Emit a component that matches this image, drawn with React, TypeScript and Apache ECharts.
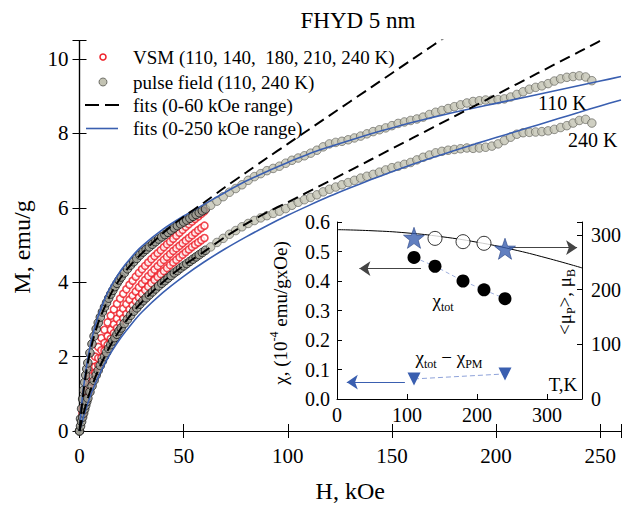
import React, { useEffect, useRef } from "react";
import * as echarts from "echarts";

// ---------- main plot data (H in kOe, M in emu/g) ----------
// pulse field data, low-field part (dense)
const pulseLowH = [0,0.5,1,1.5,2,2.5,3,3.5,4,5,6,7,8,9,10,11,12,13,14,15,16,17,18,19,20,21.5,23,24.5,26,27.5,29,30.5,32,33.5,35,36.5,38,39.5,41,42.5,44,45.5,47,48.5,50,51.5,53,54.5,56,57.5,59,60.5];
const pulse110Low = [0,0.33,0.6,0.86,1.1,1.31,1.5,1.67,1.83,2.1,2.34,2.55,2.74,2.91,3.06,3.2,3.33,3.45,3.57,3.68,3.78,3.88,3.97,4.06,4.14,4.25,4.36,4.46,4.55,4.64,4.73,4.81,4.88,4.95,5.02,5.09,5.16,5.22,5.28,5.34,5.4,5.46,5.52,5.57,5.62,5.67,5.72,5.77,5.82,5.87,5.92,5.97];
const pulse240Low = [0,0.13,0.25,0.37,0.48,0.59,0.69,0.79,0.88,1.05,1.21,1.36,1.5,1.63,1.76,1.88,2.0,2.11,2.22,2.32,2.42,2.51,2.6,2.69,2.77,2.89,3.0,3.11,3.22,3.31,3.41,3.5,3.58,3.66,3.74,3.82,3.9,3.97,4.04,4.11,4.18,4.25,4.31,4.38,4.44,4.5,4.56,4.62,4.68,4.74,4.8,4.86];
// pulse field data, high-field part
const pulseHighH = [63,66,69,72,75,78,81,84,87,90,93,96,99,102,105,108,111,114,117,120,123,126,129,132,135,138,141,144,147,150,153,156,159,162,165,168,171,174,177,180,183,186,189,192,195,198,201,204,207,210,213,216,219,222,225,228,231,234,237,240,243,246];
const pulse110High = [6.07,6.18,6.3,6.42,6.52,6.62,6.74,6.84,6.92,7.0,
  7.06,7.12,7.2,7.28,7.34,7.4,7.47,7.55,7.64,7.72,
  7.76,7.79,7.83,7.88,7.93,7.99,8.05,8.1,8.15,8.21,
  8.27,8.31,8.35,8.39,8.44,8.51,8.57,8.62,8.67,8.72,
  8.77,8.82,8.86,8.88,8.9,8.9,8.91,8.93,8.98,9.05,
  9.12,9.19,9.24,9.28,9.34,9.41,9.47,9.51,9.53,9.55,
  9.52,9.42];
const pulse240High = [4.95,5.07,5.18,5.29,5.39,5.49,5.58,5.66,5.73,5.79,
  5.85,5.91,5.98,6.07,6.15,6.22,6.28,6.35,6.43,6.5,
  6.56,6.62,6.68,6.74,6.8,6.85,6.9,6.96,7.02,7.08,
  7.12,7.17,7.22,7.29,7.36,7.42,7.48,7.52,7.55,7.57,
  7.59,7.61,7.6,7.61,7.63,7.66,7.72,7.81,7.9,7.98,
  8.02,8.03,8.04,8.05,8.07,8.11,8.16,8.21,8.28,8.35,
  8.38,8.28];

// VSM data
const vsmH = [1.5,3,4.5,6,7.5,9,10.5,12,13.5,15,16.5,18,19.5,21,22.5,24,25.5,27,28.5,30,31.5,33,34.5,36,37.5,39,40.5,42,43.5,45,46.5,48,49.5,51,52.5,54,55.5,57,58.5,60];
const vsm140M = [0.6,1.05,1.4,1.72,2.0,2.26,2.5,2.72,2.92,3.1,3.27,3.42,3.56,3.69,3.81,3.93,4.04,4.15,4.25,4.35,4.44,4.53,4.62,4.7,4.78,4.86,4.94,5.02,5.09,5.17,5.25,5.33,5.41,5.49,5.56,5.63,5.7,5.77,5.84,5.91];
const vsm180M = [0.5,0.88,1.2,1.48,1.73,1.96,2.17,2.37,2.55,2.72,2.87,3.02,3.16,3.29,3.41,3.53,3.64,3.75,3.86,3.96,4.06,4.16,4.25,4.34,4.43,4.52,4.6,4.68,4.76,4.84,4.91,4.98,5.05,5.12,5.19,5.26,5.33,5.4,5.46,5.52];
const vsm210M = [0.42,0.77,1.06,1.32,1.56,1.77,1.97,2.15,2.32,2.48,2.63,2.77,2.9,3.03,3.15,3.27,3.38,3.49,3.59,3.69,3.79,3.88,3.97,4.06,4.14,4.22,4.3,4.38,4.46,4.53,4.6,4.67,4.74,4.81,4.88,4.95,5.01,5.07,5.13,5.19];

// fits over 0-250 kOe
const fitH = [0,1,2,3,4,6,8,10,12.5,15,20,25,30,40,50,60,70,80,90,100,110,120,130,140,150,160,170,180,190,200,210,220,230,240,250,260];
const fit110M = [0,0.7,1.2,1.6,1.95,2.5,2.92,3.25,3.6,3.88,4.33,4.68,4.97,5.42,5.78,6.1,6.42,6.72,6.98,7.22,7.45,7.64,7.82,7.99,8.15,8.3,8.44,8.57,8.69,8.81,8.93,9.05,9.17,9.29,9.41,9.53];
const fit240M = [0,0.2,0.4,0.58,0.75,1.06,1.33,1.57,1.85,2.1,2.52,2.88,3.2,3.72,4.16,4.55,4.9,5.22,5.52,5.8,6.06,6.31,6.54,6.76,6.97,7.17,7.36,7.54,7.72,7.89,8.06,8.23,8.4,8.57,8.74,8.9];

// fits over 0-60 kOe
const dashH = [0,1,2,3,4,6,8,10,15,20,25,30,40,50,60,70,80,90,100,120,140,160,180,200,220,240,260];
const dash110M = [0,0.6,1.1,1.5,1.83,2.34,2.74,3.06,3.68,4.14,4.49,4.78,5.32,5.76,6.15,6.56,6.95,7.34,7.72,8.48,9.24,10.0,10.76,11.52,12.28,13.04,13.8];
const dash240M = [0,0.25,0.48,0.69,0.88,1.21,1.5,1.76,2.32,2.77,3.15,3.47,4.0,4.45,4.83,5.22,5.57,5.88,6.15,6.72,7.3,7.88,8.46,9.04,9.62,10.2,10.78];

// ---------- inset data (T in K) ----------
const chiT = [110,140,180,210,240];
const chiTot = [0.48,0.45,0.40,0.37,0.34];
const muOpenT = [140,180,210];
const muOpen = [294,288,285];
const starT = [110,240];
const muStar = [295,275];
const triT = [110,240];
const chiDiff = [0.068,0.085];
const muCurveT = [0,50,100,150,200,250,300,350];
const muCurve = [310,308,304,297,287,274,258,240];

const FONT = "Liberation Serif";
const BLUE = "#3a5fb0";
const RED = "#ee1c25";
const STAR = "path://M12,0.6 L14.8,8.6 L23.4,8.7 L16.6,13.9 L19.1,22.2 L12,17.3 L4.9,22.2 L7.4,13.9 L0.6,8.7 L9.2,8.6 Z";

const xy = (xs: number[], ys: number[]) => xs.map((x, i) => [x, ys[i]]);

const tickStyle = (len: number) => ({ show: true, inside: true, length: len, lineStyle: { color: "#000", width: 1 } });
const lineAxis = { show: true, lineStyle: { color: "#000", width: 1.2 } };
const labelStyle = (size: number, margin: number, fmt?: any) => ({
  show: true, color: "#000", fontFamily: FONT, fontSize: size, margin, formatter: fmt,
});

function buildOption(): any {
  const main = { xAxisIndex: 0, yAxisIndex: 0 };
  const ins = { xAxisIndex: 2, yAxisIndex: 2 };
  const insR = { xAxisIndex: 2, yAxisIndex: 3 };
  const txt = (x: number, y: number, text: string, size: number, extra: any = {}, rotation = 0) => ({
    type: "text", x, y, rotation, silent: true,
    style: { text, fontFamily: FONT, fontSize: size, fill: "#000", textAlign: "left", textVerticalAlign: "middle", verticalAlign: "middle", ...extra },
  });
  const richSub = (size: number, color: string) => ({
    m: { fontFamily: FONT, fontSize: size, color, lineHeight: size + 6, verticalAlign: "middle" },
    s: { fontFamily: FONT, fontSize: Math.round(size * 0.65), color, lineHeight: size + 6, verticalAlign: "bottom" },
    p: { fontFamily: FONT, fontSize: Math.round(size * 0.65), color, lineHeight: size + 6, verticalAlign: "top" },
  });
  const arrow = (color: string, from: number[], to: number[]) => ({
    silent: true, animation: false, symbol: ["none", "arrow"], symbolSize: 11,
    label: { show: false }, lineStyle: { color, width: 1.2, type: "solid" },
    data: [[{ coord: from }, { coord: to }]],
  });
  const pulseLowStyle = { color: "#9a9a90", borderColor: "#111", borderWidth: 1 };
  const pulseHighStyle = { color: "#c3c3b3", borderColor: "#55554f", borderWidth: 0.8 };
  return {
    animation: false,
    backgroundColor: "#fff",
    textStyle: { fontFamily: FONT },
    grid: [
      { left: 79.5, top: 40.5, right: -1.5, bottom: 74, containLabel: false },
      { left: 337, top: 222, width: 246, height: 177, containLabel: false },
    ],
    xAxis: [
      { type: "value", gridIndex: 0, min: 0, max: 260, interval: 50, position: "bottom",
        axisLine: lineAxis, axisTick: tickStyle(7), splitLine: { show: false },
        axisLabel: labelStyle(21, 14, (v: number) => (v % 50 === 0 ? String(v) : "")),
        name: "H, kOe", nameLocation: "middle", nameGap: 48,
        nameTextStyle: { fontFamily: FONT, fontSize: 24, color: "#000" } },
      { type: "value", gridIndex: 0, min: 0, max: 260, interval: 50, position: "top",
        axisLine: lineAxis, axisTick: tickStyle(7), splitLine: { show: false }, axisLabel: { show: false } },
      { type: "value", gridIndex: 1, min: 0, max: 350, interval: 100, position: "bottom",
        axisLine: { show: true, lineStyle: { color: "#000", width: 1 } }, axisTick: tickStyle(5), splitLine: { show: false },
        axisLabel: labelStyle(20, 6, (v: number) => (v % 100 === 0 ? String(v) : "")) },
    ],
    yAxis: [
      { type: "value", gridIndex: 0, min: 0, max: 10.5, interval: 2, position: "left",
        axisLine: lineAxis, axisTick: tickStyle(7), splitLine: { show: false },
        axisLabel: labelStyle(21, 11, (v: number) => (v % 2 === 0 ? String(v) : "")) },
      { type: "value", gridIndex: 0, min: 0, max: 10.5, interval: 2, position: "right",
        axisLine: lineAxis, axisTick: tickStyle(7), splitLine: { show: false }, axisLabel: { show: false } },
      { type: "value", gridIndex: 1, min: 0, max: 0.6, interval: 0.1, position: "left",
        axisLine: { show: true, lineStyle: { color: "#000", width: 1 } }, axisTick: tickStyle(5), splitLine: { show: false },
        axisLabel: labelStyle(20, 7, (v: number) => v.toFixed(1)) },
      { type: "value", gridIndex: 1, min: 0, max: 324, interval: 100, position: "right",
        axisLine: { show: true, lineStyle: { color: "#000", width: 1 } }, axisTick: tickStyle(5), splitLine: { show: false },
        axisLabel: labelStyle(20, 9, (v: number) => (v % 100 === 0 ? String(v) : "")) },
    ],
    series: [
      // VSM data (red open circles)
      ...[vsm140M, vsm180M, vsm210M].map((m) => ({
        type: "scatter", ...main, data: xy(vsmH, m), symbol: "circle", symbolSize: 7,
        itemStyle: { color: "#fff", borderColor: RED, borderWidth: 1.6 }, silent: true, z: 2,
      })),
      // pulse field data (gray circles)
      ...[pulse110Low, pulse240Low].map((m) => ({
        type: "scatter", ...main, data: xy(pulseLowH, m), symbol: "circle", symbolSize: 8.5,
        itemStyle: pulseLowStyle, silent: true, z: 3,
      })),
      ...[pulse110High, pulse240High].map((m) => ({
        type: "scatter", ...main, data: xy(pulseHighH, m), symbol: "circle", symbolSize: 8.5,
        itemStyle: pulseHighStyle, silent: true, z: 3,
      })),
      // fits 0-250 kOe (blue)
      ...[fit110M, fit240M].map((m) => ({
        type: "line", ...main, data: xy(fitH, m), showSymbol: false, smooth: 0.3,
        lineStyle: { color: BLUE, width: 1.6 }, silent: true, z: 4,
      })),
      // fits 0-60 kOe (black dashed)
      ...[dash110M, dash240M].map((m) => ({
        type: "line", ...main, data: xy(dashH, m), showSymbol: false, smooth: 0.3, clip: true,
        lineStyle: { color: "#000", width: 2, type: [11, 6] }, silent: true, z: 5,
      })),
      // inset: <mu_p>(T) curve
      {
        type: "line", ...insR, data: xy(muCurveT, muCurve), showSymbol: false, smooth: true,
        lineStyle: { color: "#000", width: 1 }, silent: true, z: 3,
        markLine: arrow("#444", [246, 277], [343, 277]),
      },
      // chi_tot
      {
        type: "line", ...ins, data: xy(chiT, chiTot), symbol: "circle", symbolSize: 13,
        itemStyle: { color: "#000" }, lineStyle: { color: "#9fb0de", width: 1, type: [4, 3] }, silent: true, z: 4,
        markLine: arrow("#444", [120, 0.442], [32, 0.442]),
      },
      // open circles <mu_p>
      {
        type: "scatter", ...insR, data: xy(muOpenT, muOpen), symbol: "circle", symbolSize: 14,
        itemStyle: { color: "#fff", borderColor: "#000", borderWidth: 1 }, silent: true, z: 5,
      },
      // stars
      {
        type: "scatter", ...insR, data: xy(starT, muStar), symbol: STAR, symbolSize: 21,
        itemStyle: { color: BLUE, borderColor: "#2a4588", borderWidth: 0.8 }, silent: true, z: 6,
      },
      // chi_tot - chi_PM
      {
        type: "line", ...ins, data: xy(triT, chiDiff), symbol: "triangle", symbolRotate: 180, symbolSize: 13,
        itemStyle: { color: BLUE }, lineStyle: { color: "#8fa3da", width: 1, type: [5, 3] }, silent: true, z: 4,
        markLine: arrow(BLUE, [97, 0.057], [14, 0.057]),
      },
    ],
    graphic: [
      txt(358, 20, "FHYD 5 nm", 23, { textAlign: "center" }),
      txt(22, 247, "M, emu/g", 24, { textAlign: "center" }, Math.PI / 2),
      // legend
      { type: "circle", silent: true, shape: { cx: 103, cy: 57, r: 3 }, style: { fill: "#fff", stroke: RED, lineWidth: 1.5 } },
      { type: "circle", silent: true, shape: { cx: 103, cy: 82, r: 4 }, style: { fill: "#c3c3b3", stroke: "#55554f", lineWidth: 0.8 } },
      { type: "line", silent: true, shape: { x1: 85, y1: 105, x2: 119, y2: 105 }, style: { stroke: "#000", lineWidth: 2, lineDash: [14, 6] } },
      { type: "line", silent: true, shape: { x1: 86, y1: 128.5, x2: 118, y2: 128.5 }, style: { stroke: BLUE, lineWidth: 1.6 } },
      txt(133, 57, "VSM (110, 140,  180, 210, 240 K)", 19),
      txt(133, 82, "pulse field (110, 240 K)", 19),
      txt(133, 105, "fits (0-60 kOe range)", 19),
      txt(133, 128, "fits (0-250 kOe range)", 19),
      txt(538, 103, "110 K", 20),
      txt(568, 140, "240 K", 20),
      // inset texts
      {
        type: "text", x: 280, y: 313, rotation: Math.PI / 2, silent: true,
        style: { text: "{m|χ, (10}{p|-4}{m| emu/gxOe)}", rich: richSub(19, "#000"), textAlign: "center", textVerticalAlign: "middle", verticalAlign: "middle", align: "center" },
      },
      {
        type: "text", x: 564, y: 302, rotation: Math.PI / 2, silent: true,
        style: { text: "{m|<μ}{s|P}{m|>, μ}{s|B}", rich: richSub(19, "#000"), textAlign: "center", textVerticalAlign: "middle", verticalAlign: "middle", align: "center" },
      },
      {
        type: "text", x: 443, y: 300, silent: true,
        style: { text: "{m|χ}{s|tot}", rich: richSub(19, "#000"), textAlign: "center", textVerticalAlign: "middle", verticalAlign: "middle", align: "center" },
      },
      {
        type: "text", x: 449, y: 357, silent: true,
        style: { text: "{m|χ}{s|tot}{m| − χ}{s|PM}", rich: richSub(19, BLUE), textAlign: "center", textVerticalAlign: "middle", verticalAlign: "middle", align: "center" },
      },
      txt(563, 384, "T,K", 19, { textAlign: "center" }),
    ],
  };
}

export default function App() {
  const ref = useRef<HTMLDivElement>(null);
  useEffect(() => {
    const chart = echarts.init(ref.current!, null, { renderer: "svg" });
    chart.setOption(buildOption());
    return () => chart.dispose();
  }, []);
  return (
    <div
      ref={ref}
      style={{ position: "absolute", left: 0, top: 0, width: 624, height: 508, background: "#fff", overflow: "hidden" }}
    />
  );
}
